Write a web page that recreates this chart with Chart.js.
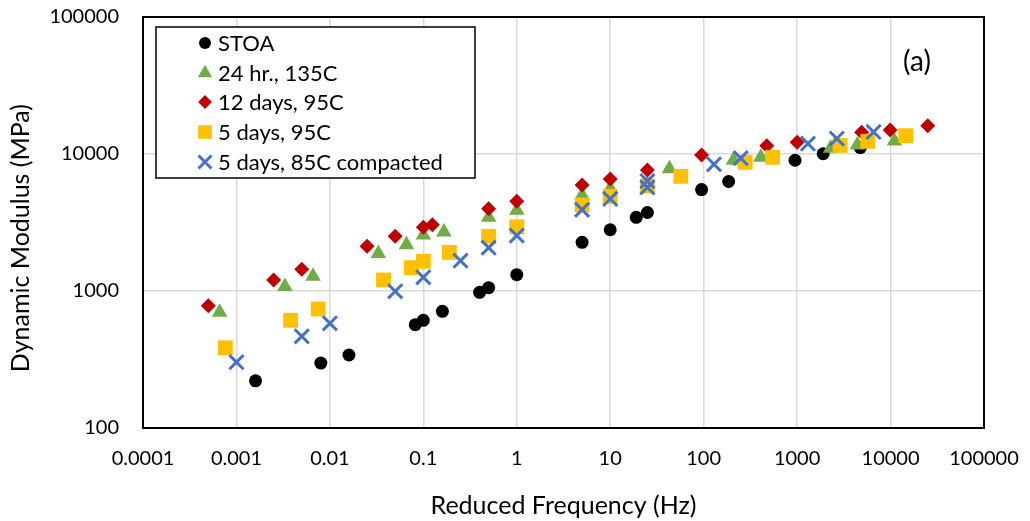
<!DOCTYPE html>
<html>
<head>
<meta charset="utf-8">
<script src="https://cdn.jsdelivr.net/npm/chart.js@4.4.0/dist/chart.umd.min.js"></script>
<style>
  html, body { margin: 0; padding: 0; background: #fff; }
</style>
</head>
<body>
<canvas id="modChart" width="1030" height="521"></canvas>
<script>
// values
var seriesNames = ["STOA", "24 hr., 135C", "12 days, 95C", "5 days, 95C", "5 days, 85C compacted"];

var stoaFreq = [0.0016, 0.008, 0.016, 0.082, 0.1, 0.16, 0.4, 0.5, 1, 5, 10, 19, 25, 95, 185, 950, 1900, 4750];
var stoaMod = [221, 298, 341, 568, 611, 711, 978, 1057, 1315, 2266, 2799, 3450, 3740, 5500, 6300, 9000, 10040, 11140];

var hr24Freq = [0.00066, 0.0033, 0.0066, 0.033, 0.066, 0.1, 0.166, 0.5, 1, 5, 10, 25, 43, 208, 409, 2280, 4410, 11000];
var hr24Mod = [700, 1080, 1280, 1880, 2180, 2560, 2700, 3450, 3880, 5000, 5600, 6000, 7800, 9000, 9450, 11000, 11650, 12450];

var d12Freq = [0.0005, 0.0025, 0.005, 0.025, 0.05, 0.1, 0.125, 0.5, 1, 5, 10, 25, 95, 473, 1000, 4900, 9900, 25000];
var d12Mod = [781, 1202, 1440, 2120, 2508, 2917, 3048, 3990, 4518, 5941, 6580, 7642, 9840, 11500, 12170, 14390, 14960, 16100];

var d5Freq = [0.00076, 0.0038, 0.0075, 0.0375, 0.0745, 0.1, 0.19, 0.5, 1, 5, 10, 25, 57, 278, 547, 2880, 5700, 14550];
var d5Mod = [385, 611, 739, 1203, 1479, 1648, 1915, 2506, 2944, 4247, 4913, 5835, 6873, 8690, 9455, 11560, 12380, 13600];

var d5cFreq = [0.001, 0.005, 0.01, 0.05, 0.1, 0.25, 0.5, 1, 5, 10, 25, 25, 129, 249, 1306, 2660, 6580];
var d5cMod = [302, 467, 581, 995, 1259, 1664, 2070, 2541, 3918, 4698, 5700, 6350, 8410, 9315, 11900, 12970, 14490];

var xTicks = [0.0001, 0.001, 0.01, 0.1, 1, 10, 100, 1000, 10000, 100000];
var yTicks = [100, 1000, 10000, 100000];

function pairs(xs, ys) {
    return xs.map(function (x, i) { return { x: x, y: ys[i] }; });
}

var FONT = "Lato, 'Open Sans', sans-serif";

var styles = [
    { pointStyle: "circle", pointRadius: 6.5, backgroundColor: "#000000", borderColor: "#000000", borderWidth: 0 },
    { pointStyle: "triangle", pointRadius: 9, backgroundColor: "#70ad47", borderColor: "#70ad47", borderWidth: 0 },
    { pointStyle: "rectRot", pointRadius: 7.5, backgroundColor: "#c00000", borderColor: "#c00000", borderWidth: 0 },
    { pointStyle: "rect", pointRadius: 10.5, backgroundColor: "#ffc000", borderColor: "#ffc000", borderWidth: 0 },
    { pointStyle: "crossRot", pointRadius: 10, backgroundColor: "#4472c4", borderColor: "#4472c4", borderWidth: 3 }
];

var allData = [
    pairs(stoaFreq, stoaMod),
    pairs(hr24Freq, hr24Mod),
    pairs(d12Freq, d12Mod),
    pairs(d5Freq, d5Mod),
    pairs(d5cFreq, d5cMod)
];

var datasets = seriesNames.map(function (name, i) {
    var s = styles[i];
    return {
        label: name,
        data: allData[i],
        showLine: false,
        pointStyle: s.pointStyle,
        pointRadius: s.pointRadius,
        pointHoverRadius: s.pointRadius,
        backgroundColor: s.backgroundColor,
        borderColor: s.borderColor,
        borderWidth: s.borderWidth,
        order: seriesNames.length - i
    };
});

// frame round the plot, the boxed legend and the "(a)" tag
var framePlugin = {
    id: "framePlugin",
    afterDraw: function (chart) {
        var ctx = chart.ctx;
        var a = chart.chartArea;
        ctx.save();
        ctx.strokeStyle = "#000";
        ctx.lineWidth = 2;
        ctx.strokeRect(a.left, a.top, a.right - a.left, a.bottom - a.top);

        // legend box
        var lx = 156, ly = 27, lw = 319, lh = 151;
        ctx.fillStyle = "#fff";
        ctx.fillRect(lx, ly, lw, lh);
        ctx.lineWidth = 1.5;
        ctx.strokeRect(lx, ly, lw, lh);

        ctx.font = "22px " + FONT;
        ctx.textBaseline = "middle";
        ctx.textAlign = "left";
        var rowY = [43, 73, 102, 132, 162];
        for (var i = 0; i < seriesNames.length; i++) {
            var s = styles[i];
            ctx.fillStyle = s.backgroundColor;
            ctx.strokeStyle = s.borderColor;
            ctx.lineWidth = s.borderWidth;
            Chart.helpers.drawPoint(ctx, {
                pointStyle: s.pointStyle,
                radius: s.pointRadius * 0.92,
                rotation: 0,
                borderWidth: s.borderWidth
            }, 205, rowY[i]);
            ctx.fillStyle = "#000";
            ctx.fillText(seriesNames[i], 218, rowY[i] + 1);
        }

        ctx.font = "28px " + FONT;
        ctx.textAlign = "center";
        ctx.fillText("(a)", 917, 62);
        ctx.restore();
    }
};

var ctx = document.getElementById("modChart").getContext("2d");
var myChart = new Chart(ctx, {
    type: "scatter",
    data: { datasets: datasets },
    options: {
        responsive: false,
        animation: false,
        layout: { padding: { left: 0, right: 46, top: 17, bottom: 0 } },
        plugins: {
            legend: { display: false },
            tooltip: { enabled: false }
        },
        scales: {
            x: {
                type: "logarithmic",
                min: 0.0001,
                max: 100000,
                afterBuildTicks: function (scale) {
                    scale.ticks = xTicks.map(function (v) { return { value: v }; });
                },
                afterFit: function (scale) {
                    scale.height = 93;
                    scale.paddingLeft = 0;
                    scale.paddingRight = 0;
                },
                grid: { color: "#d9d9d9", lineWidth: 1.5, drawTicks: false },
                border: { display: false },
                ticks: {
                    autoSkip: false,
                    maxRotation: 0,
                    padding: 19,
                    color: "#000",
                    font: { family: FONT, size: 20 },
                    callback: function (v) { return String(v); }
                },
                title: {
                    display: true,
                    text: "Reduced Frequency (Hz)",
                    color: "#000",
                    font: { family: FONT, size: 25 },
                    padding: { top: 0, bottom: 0 }
                }
            },
            y: {
                type: "logarithmic",
                min: 100,
                max: 100000,
                afterBuildTicks: function (scale) {
                    scale.ticks = yTicks.map(function (v) { return { value: v }; });
                },
                afterFit: function (scale) {
                    scale.width = 143;
                    scale.paddingTop = 0;
                    scale.paddingBottom = 0;
                },
                grid: { color: "#d9d9d9", lineWidth: 1.5, drawTicks: false },
                border: { display: false },
                ticks: {
                    autoSkip: false,
                    padding: 24,
                    color: "#000",
                    font: { family: FONT, size: 20 },
                    callback: function (v) { return String(v); }
                },
                title: {
                    display: true,
                    text: "Dynamic Modulus (MPa)\u2003\u2002",
                    color: "#000",
                    font: { family: FONT, size: 25 },
                    padding: { top: 6, bottom: 0 }
                }
            }
        }
    },
    plugins: [framePlugin]
});
</script>
</body>
</html>
